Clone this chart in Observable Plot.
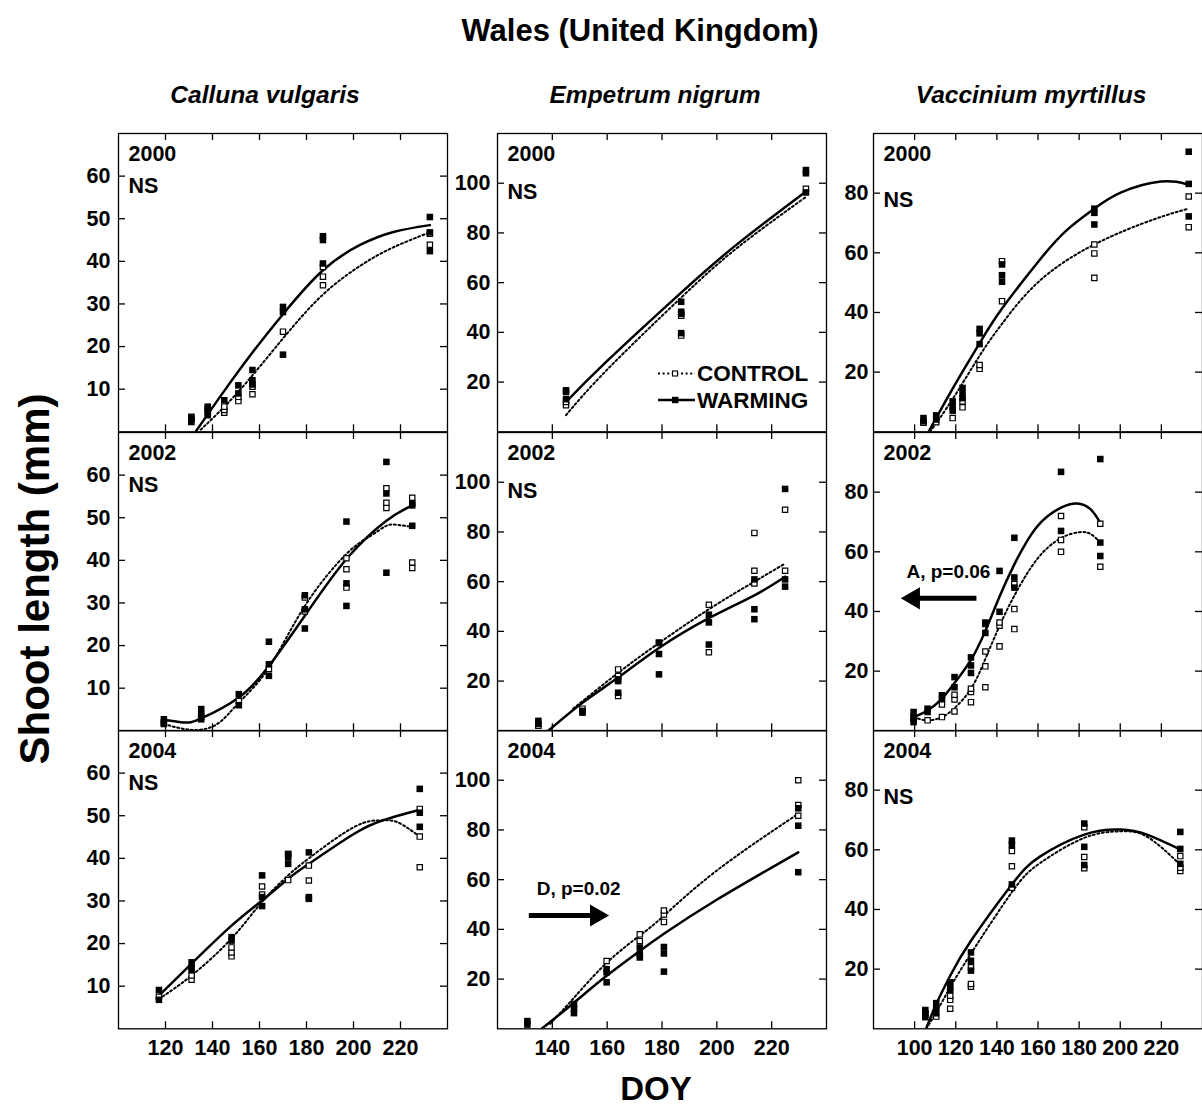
<!DOCTYPE html>
<html>
<head>
<meta charset="utf-8">
<script src="https://cdn.jsdelivr.net/npm/d3@7"></script>
<script src="https://cdn.jsdelivr.net/npm/@observablehq/plot@0.6"></script>
<style>
  html, body { margin: 0; padding: 0; background: white; overflow: hidden; }
  #chart { position: relative; width: 1202px; height: 1115px; overflow: hidden;
           font-family: "Liberation Sans", Arial, sans-serif; font-weight: bold; }
  #chart svg { position: absolute; }
</style>
</head>
<body>
<div id="chart"></div>
<script>
// ---------------- DATA ----------------
const title = "Wales (United Kingdom)";
const species = ["Calluna vulgaris", "Empetrum nigrum", "Vaccinium myrtillus"];
const years = ["2000", "2002", "2004"];
// significance label per [year][species]
const signif = [["NS", "NS", "NS"], ["NS", "NS", ""], ["NS", "", "NS"]];
const legendLabels = ["CONTROL", "WARMING"];
const xLabel = "DOY";
const yLabel = "Shoot length (mm)";

// axis domains and ticks per species column
const xDomains = [[100, 240], [120, 240], [80, 240]];
const yDomains = [[0, 70], [0, 120], [0, 100]];
const xTickVals = [[120, 140, 160, 180, 200, 220], [140, 160, 180, 200, 220], [100, 120, 140, 160, 180, 200, 220]];
const yTickVals = [[10, 20, 30, 40, 50, 60], [20, 40, 60, 80, 100], [20, 40, 60, 80]];

// ---- Calluna vulgaris ----
const callunaW2000 = [[131,[2.3,3.3]],[138,[3.9,5.1,5.9]],[145,[7.4]],[151,[9.0,10.9]],[157,[11.1,12.1,14.5]],[170,[18.1,28.1,29.3]],[187,[39.5,45.0,45.9]],[232.5,[42.4,46.8,50.4]]];
const callunaC2000 = [[131,[2.8,3.5]],[138,[4.5,5.5]],[145,[4.5,5.1,5.9]],[151,[7.2,8.2]],[157,[8.8,10.6]],[170,[23.5]],[187,[34.4,36.4,38.7]],[232.5,[43.9,46.5]]];
const callunaFitW2000 = [[132.8,0],[145,9.6],[157,18.6],[170,27.6],[187,37.9],[203,43.9],[217,46.9],[232.5,48.5]];
const callunaFitC2000 = [[135,0.5],[151,9.4],[170,21.9],[187,32.2],[203,39],[217,43.3],[232.5,46.8]];

const callunaW2002 = [[119.3,[1.9,2.7]],[135.2,[2.7,3.9,5.1]],[151.2,[6.0,8.6]],[164,[12.9,15.6,20.9]],[179.3,[24.0,28.5,31.8]],[197,[29.3,34.6,49.1]],[214,[37.1,55.7,63.1]],[225,[48.1,52.9,53.4]]];
const callunaC2002 = [[119.3,[1.6]],[135.2,[3.3]],[151.2,[7.0]],[164,[14.5]],[179.3,[28,31.3]],[197,[33.6,37.9,40.5]],[214,[52.3,53.5,56.9]],[225,[38.2,39.5,54.7]]];
const callunaFitW2002 = [[119.3,2.6],[127.8,1.95],[135.2,2.9],[151.2,7.8],[164,15.2],[179.3,27],[197,40.3],[214,49.3],[225,52.9]];
const callunaFitC2002 = [[119.3,1.6],[131.3,0.2],[142,1.6],[151.2,6.6],[164,14.8],[179.3,29.3],[197,41.5],[207.2,45.7],[214,48.1],[219,48.3],[225,47.9]];

const callunaW2004 = [[117.2,[6.8,9.1]],[131.1,[13.8,14.4,15.6]],[148.1,[20.7,21.5]],[161.1,[28.8,30.9,36]],[172.2,[38.7,40.2,41]],[181,[30.5,30.9,41.4]],[228.2,[47.4,50.7,56.3]]];
const callunaC2004 = [[117.2,[7.5]],[131.1,[11.5,12.5]],[148.1,[17,17.9,19.1]],[161.1,[31.5,33.4]],[172.2,[34.9,41]],[181,[34.8,38.3]],[228.2,[37.9,45.1,51.6]]];
const callunaFitW2004 = [[117.2,7.8],[131.1,15.3],[148.1,24.2],[161.1,30.1],[172.2,35.2],[181,38.7],[200.1,45.7],[212.9,49],[228.2,51.4]];
const callunaFitC2004 = [[117.2,7.0],[131.1,12.5],[148.1,21.2],[161.1,29.8],[172.2,36],[181,40],[200.1,47.3],[211.5,48.9],[218.6,48.5],[228.2,45.1]];

// ---- Empetrum nigrum ----
const empetrumW2000 = [[145,[13.1,16.0,16.7]],[187,[39.7,47.5,48.3,52.3]],[232.5,[96.3,104,105.3]]];
const empetrumC2000 = [[145,[10.7,12]],[187,[38.7,46.7]],[232.5,[97.8]]];
const empetrumFitW2000 = [[145,12],[160,28.5],[187,56],[208,76],[232.5,96.7]];
const empetrumFitC2000 = [[145,6.7],[160,25],[187,54],[208,74.5],[232.5,94.5]];

const empetrumW2002 = [[134.9,[2.7,4.0]],[151,[7.3,8]],[164,[15.3,20,20.7]],[178.9,[22.7,30.9,35.3]],[197.1,[34.7,43.6,46.7]],[213.7,[44.9,48.9,60.9]],[224.9,[58,60.9,97.3]]];
const empetrumC2002 = [[134.9,[2]],[151,[8.9]],[164,[14,22,24.7]],[178.9,[35.5]],[197.1,[31.6,50.7]],[213.7,[59.3,64.4,79.6]],[224.9,[64.4,88.9]]];
const empetrumFitW2002 = [[138.5,0],[151,11.3],[164,21.4],[178.9,33.3],[197.1,45.3],[213.7,54.5],[224.9,62]];
const empetrumFitC2002 = [[147.6,8.9],[164,23.3],[178.9,35.3],[197.1,48.9],[213.7,60],[224.9,67.3]];

const empetrumW2004 = [[130.9,[1.7,3.1]],[147.9,[6.3,8,10]],[159.8,[18.7,22.7,24]],[171.9,[28.7,30,32.7]],[180.7,[23,30.3,32.9]],[229.7,[63,81.7,88.7]]];
const empetrumC2004 = [[159.8,[27.3]],[171.9,[35.3,38]],[180.7,[43,46,47.6]],[229.7,[85.7,90,100]]];
const empetrumFitW2004 = [[136.1,0],[147.9,10.5],[159.8,21.3],[171.9,31.3],[180.7,38.2],[199.8,51.8],[229.7,71]];
const empetrumFitC2004 = [[139.2,2],[147.9,12.5],[159.8,26.5],[171.9,37.5],[180.7,45.5],[199.8,63.5],[229.7,86.5]];

// ---- Vaccinium myrtillus ----
const vacciniumW2000 = [[104.3,[3.5,4.6]],[110.5,[4.1,5.5]],[118.5,[7.1,8.5,10.2]],[123.3,[11.3,12.7,14.7]],[131.6,[29.4,33.0,34.5]],[142.5,[50.3,52.5,56.1]],[187.4,[69.5,73.4,74.8]],[233.3,[72.2,83.1,93.9]]];
const vacciniumC2000 = [[104.3,[3.0]],[110.5,[3.2]],[118.5,[4.6]],[123.3,[8.2,10.2]],[131.6,[21.1,22.4]],[142.5,[43.8,57.2]],[187.4,[51.6,59.8,62.8]],[233.3,[68.6,78.9]]];
const vacciniumFitW2000 = [[106.8,0],[118.5,14.5],[131.6,29.7],[142.5,41.3],[160.3,57.2],[174,67.6],[187.4,74.8],[200.2,80.2],[219.7,83.9],[233.3,82.8]];
const vacciniumFitC2000 = [[107.5,0],[118.5,11],[131.6,25.5],[142.5,36.2],[160.3,50.3],[187.4,62.8],[216.3,71.2],[233.3,74.8]];

const vacciniumW2002 = [[99.5,[2.9,4.6,6.3]],[106.3,[6.3,7.4]],[113.3,[10.8,11.9]],[119.4,[14.6,18]],[127.4,[19.4,21.9,24.6]],[134.4,[32.8,35.8,36.3]],[141.3,[39.9,53.6]],[148.5,[48,51.4,64.7]],[171.2,[67,86.8]],[190.3,[58.6,63.1,91.1]]];
const vacciniumC2002 = [[99.5,[4]],[106.3,[3.5]],[113.3,[4.6,8.8]],[119.4,[6.5,10.5,12.1]],[127.4,[9.6,13,14.1]],[134.4,[14.6,21.6,26.6]],[141.3,[28.3,35.2,36.3]],[148.5,[34.1,40.8,49.2]],[171.2,[60,64,72]],[190.3,[55,69.4]]];
const vacciniumFitW2002 = [[99.5,4.6],[106.3,6.8],[113.3,10.8],[119.4,16],[127.4,23.8],[134.4,33.5],[141.3,45],[148.5,55.8],[159.5,68.4],[171.2,74.8],[179,76.2],[185.5,74.3],[190.3,69.7]];
const vacciniumFitC2002 = [[99.5,4.6],[106.3,3.5],[113.3,4.6],[119.4,7.6],[127.4,14.1],[134.4,24.1],[141.3,35.2],[148.5,45.3],[159.5,57.5],[171.2,64.6],[180.6,66.6],[186,65.8],[190.3,63.1]];

const vacciniumW2004 = [[105.2,[3.9,5.2,6.3]],[110.5,[5.2,7,8.6]],[117.3,[13,13.9,15.6]],[127.4,[19.5,22.8,25.6]],[147.3,[48.4,61.6,63.1]],[182.5,[54.9,61,68.8]],[229.2,[55.3,60.3,66]]];
const vacciniumC2004 = [[105.2,[4.8]],[110.5,[4.1]],[117.3,[6.7,9.7,11.1]],[127.4,[14.1,15,20.6]],[147.3,[47.3,54.5,59.6]],[182.5,[53.8,57.6,67.6]],[229.2,[52.9,54,57.9]]];
const vacciniumFitW2004 = [[105.6,0],[110.5,8.3],[117.3,17.8],[127.4,29.5],[147.3,48.4],[161.1,57.8],[182.5,65.1],[200,66.8],[213,65.1],[229.2,60.1]];
const vacciniumFitC2004 = [[105.6,0],[110.5,5.5],[117.3,13.9],[127.4,25.2],[147.3,45.8],[161.1,55.6],[182.5,64],[200,66.2],[213,64.4],[229.2,55]];

// shift annotations (DOY span of arrow and its height in mm)
const shiftArrows = [
  {row: 1, col: 2, label: "A, p=0.06", from: 130.3, to: 93.3, at: 44.4},
  {row: 2, col: 1, label: "D, p=0.02", from: 131.6, to: 160.7, at: 45.6}
];

// ---------------- LAYOUT ----------------
const W = 329, H = 298.3;
const colLeft = [118, 497.3, 873.3];
const rowTop = [133.4, 431.7, 730];
const nsTop = [44.7, 50, 58.4];
const yPad = [8, 7, 5];
const FONT = "'Liberation Sans', Arial, sans-serif";
const FS = 21.5;

const warm = [
  [callunaW2000, empetrumW2000, vacciniumW2000],
  [callunaW2002, empetrumW2002, vacciniumW2002],
  [callunaW2004, empetrumW2004, vacciniumW2004]];
const ctrl = [
  [callunaC2000, empetrumC2000, vacciniumC2000],
  [callunaC2002, empetrumC2002, vacciniumC2002],
  [callunaC2004, empetrumC2004, vacciniumC2004]];
const fitW = [
  [callunaFitW2000, empetrumFitW2000, vacciniumFitW2000],
  [callunaFitW2002, empetrumFitW2002, vacciniumFitW2002],
  [callunaFitW2004, empetrumFitW2004, vacciniumFitW2004]];
const fitC = [
  [callunaFitC2000, empetrumFitC2000, vacciniumFitC2000],
  [callunaFitC2002, empetrumFitC2002, vacciniumFitC2002],
  [callunaFitC2004, empetrumFitC2004, vacciniumFitC2004]];

const expand = (groups) => groups.flatMap(([doy, vals]) => vals.map((v) => ({doy, v})));
const pairs = (arr) => arr.map(([doy, v]) => ({doy, v}));

const chart = document.getElementById("chart");
const DASH = "2,2.6";

for (let r = 0; r < 3; r++) {
  for (let c = 0; c < 3; c++) {
    const showX = r === 2;
    const mL = 70, mR = 3, mT = 3, mB = showX ? 50 : 3;
    const arrows = shiftArrows.filter((a) => a.row === r && a.col === c);
    const marks = [
      Plot.frame({stroke: "black", strokeWidth: 1.3}),
      // inward ticks on all four sides
      Plot.tickX(xTickVals[c], {x: (d) => d, insetBottom: H - 7, stroke: "black", strokeWidth: 1.3}),
      Plot.tickX(xTickVals[c], {x: (d) => d, insetTop: H - 7, stroke: "black", strokeWidth: 1.3}),
      Plot.tickY(yTickVals[c], {y: (d) => d, insetRight: W - 7, stroke: "black", strokeWidth: 1.3}),
      Plot.tickY(yTickVals[c], {y: (d) => d, insetLeft: W - 7, stroke: "black", strokeWidth: 1.3}),
      // fitted curves
      Plot.line(pairs(fitC[r][c]), {x: "doy", y: "v", curve: "natural", stroke: "black", strokeWidth: 2, strokeDasharray: DASH, clip: true}),
      Plot.line(pairs(fitW[r][c]), {x: "doy", y: "v", curve: "natural", stroke: "black", strokeWidth: 2.5, clip: true}),
      // observations
      Plot.dot(expand(ctrl[r][c]), {x: "doy", y: "v", symbol: "square", r: 3, fill: "white", stroke: "black", strokeWidth: 1.2}),
      Plot.dot(expand(warm[r][c]), {x: "doy", y: "v", symbol: "square", r: 3.7, fill: "black"}),
      // year and significance labels
      Plot.text([years[r]], {text: (d) => d, frameAnchor: "top-left", textAnchor: "start", lineAnchor: "top", dx: 10, dy: 12, fontSize: FS, fontWeight: "bold", fill: "black"}),
      Plot.text([signif[r][c]], {text: (d) => d, frameAnchor: "top-left", textAnchor: "start", lineAnchor: "top", dx: 10, dy: nsTop[c], fontSize: FS, fontWeight: "bold", fill: "black"})
    ];
    for (const a of arrows) {
      const right = a.to > a.from;
      marks.push(
        Plot.ruleY([a], {y: "at", x1: (d) => Math.min(d.from, d.to), x2: (d) => Math.max(d.from, d.to),
          strokeWidth: 5, stroke: "black", insetLeft: right ? 0 : 12, insetRight: right ? 12 : 0}),
        Plot.dot([a], {x: "to", y: "at", symbol: "triangle", r: 8.2, rotate: right ? 90 : -90, fill: "black", dx: right ? -12.7 : 12.7}),
        Plot.text([a], {x: (d) => (d.from + d.to) / 2, y: "at", text: "label", dx: 9.5, dy: -34.3, lineAnchor: "top", fontSize: 19, fontWeight: "bold", fill: "black"})
      );
    }
    const svg = Plot.plot({
      width: W + mL + mR,
      height: H + mT + mB,
      marginLeft: mL, marginRight: mR, marginTop: mT, marginBottom: mB,
      style: {background: "none", fontFamily: FONT, fontSize: FS + "px", fontWeight: "bold", color: "black", overflow: "visible"},
      x: {domain: xDomains[c], ticks: xTickVals[c], tickSize: 0, tickPadding: 11, label: null, axis: showX ? "bottom" : null},
      y: {domain: yDomains[c], ticks: yTickVals[c], tickSize: 0, tickPadding: yPad[c], label: null},
      marks
    });
    svg.style.position = "absolute";
    svg.style.left = (colLeft[c] - mL) + "px";
    svg.style.top = (rowTop[r] - mT) + "px";
    chart.appendChild(svg);
  }
}

// ---------------- TITLES & LEGEND (overlay) ----------------
const ov = d3.select(chart).append("svg")
  .attr("width", 1202).attr("height", 1115)
  .style("left", "0px").style("top", "0px")
  .attr("font-family", FONT).attr("font-weight", "bold").attr("fill", "black");

ov.append("text").attr("x", 640).attr("y", 41).attr("text-anchor", "middle")
  .attr("font-size", 31).text(title);

const speciesX = [265, 655, 1031];
species.forEach((s, i) => {
  ov.append("text").attr("x", speciesX[i]).attr("y", 103).attr("text-anchor", "middle")
    .attr("font-size", 24.5).attr("font-style", "italic").text(s);
});

ov.append("text").attr("transform", "translate(49,579) rotate(-90)").attr("text-anchor", "middle")
  .attr("font-size", 42).text(yLabel);

ov.append("text").attr("x", 656).attr("y", 1100).attr("text-anchor", "middle")
  .attr("font-size", 33).text(xLabel);

// legend inside the Empetrum 2000 panel
const lg = ov.append("g");
const legendY = [373.5, 400];
legendLabels.forEach((lab, i) => {
  const y = legendY[i];
  lg.append("line").attr("x1", 658).attr("x2", 695).attr("y1", y).attr("y2", y)
    .attr("stroke", "black").attr("stroke-width", i === 0 ? 2 : 2.5)
    .attr("stroke-dasharray", i === 0 ? DASH : null);
  if (i === 0) {
    lg.append("rect").attr("x", 672.5).attr("y", y - 2.5).attr("width", 5).attr("height", 5)
      .attr("fill", "white").attr("stroke", "black").attr("stroke-width", 1.1);
  } else {
    lg.append("rect").attr("x", 672).attr("y", y - 3.2).attr("width", 6.4).attr("height", 6.4).attr("fill", "black");
  }
  lg.append("text").attr("x", 697).attr("y", y + 7.5).attr("font-size", 22.5).text(lab);
});
</script>
</body>
</html>
